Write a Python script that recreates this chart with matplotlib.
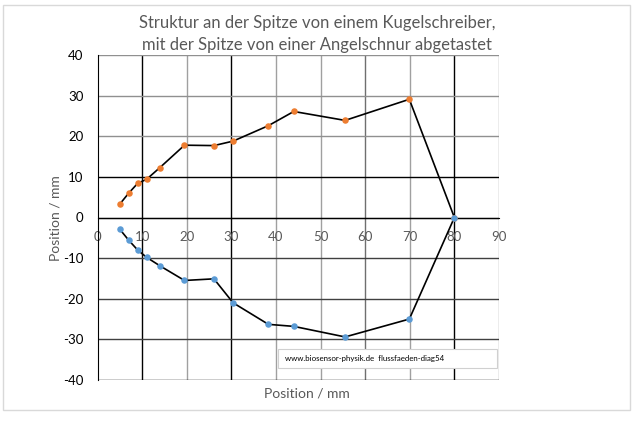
import matplotlib
matplotlib.use("Agg")
import matplotlib.pyplot as plt
from matplotlib.patches import Rectangle

plt.rcParams['font.family'] = ['Lato', 'DejaVu Sans']
plt.rcParams['axes.unicode_minus'] = False

title = "Struktur an der Spitze von einem Kugelschreiber,\nmit der Spitze von einer Angelschnur abgetastet"
xlabel = "Position / mm"
ylabel = "Position / mm"
watermark = "www.biosensor-physik.de  flussfaeden-diag54"

x_upper = [5.0, 7.0, 9.0, 11.0, 14.0, 19.5, 26.1, 30.4, 38.3, 44.0, 55.5, 69.9, 80.0]
y_upper = [3.3, 6.0, 8.4, 9.4, 12.3, 17.8, 17.7, 18.8, 22.6, 26.1, 23.9, 29.1, 0.0]
x_lower = [5.0, 7.0, 9.0, 11.0, 14.0, 19.5, 26.1, 30.4, 38.3, 44.0, 55.5, 69.9, 80.0]
y_lower = [-2.9, -5.6, -8.0, -9.8, -11.9, -15.5, -15.1, -21.0, -26.3, -26.8, -29.4, -25.0, 0.0]

xticks = [0, 10, 20, 30, 40, 50, 60, 70, 80, 90]
yticks = [-40, -30, -20, -10, 0, 10, 20, 30, 40]

fig = plt.figure(figsize=(6.35, 4.22), dpi=100)
fig.patches.append(Rectangle((3/635, 1-410/422), 627/635, 405/422, transform=fig.transFigure,
                             fill=False, edgecolor='#d9d9d9', linewidth=1.0))
ax = fig.add_axes([97.5/635, 1-380/422, 401.5/635, 325/422])
ax.set_xlim(0, 90)
ax.set_ylim(-40, 40)

vcol = {10: 'black', 30: 'black', 80: 'black', 60: '#6f6f6f'}
for xv in xticks[1:]:
    ax.axvline(xv, color=vcol.get(xv, '#a0a0a0'), lw=1.0, zorder=1)
hcol = {10: 'black', 0: 'black', -10: '#404040', -20: '#404040', -30: '#404040', -40: 'black'}
for yv in yticks:
    ax.axhline(yv, color=hcol.get(yv, '#909090'), lw=1.0, zorder=1)

ax.plot(x_upper, y_upper, color='black', lw=1.2, zorder=3)
ax.plot(x_lower, y_lower, color='black', lw=1.2, zorder=3)
ax.scatter(x_upper, y_upper, s=22, color='#ED7D31', zorder=4, linewidths=0)
ax.scatter(x_lower, y_lower, s=22, color='#5B9BD5', zorder=4, linewidths=0)

for s in ['top', 'right']:
    ax.spines[s].set_visible(False)
ax.spines['left'].set_color('black')
ax.spines['bottom'].set_position(('data', 0))
ax.spines['bottom'].set_color('black')

ax.set_xticks(xticks)
ax.set_yticks(yticks)
ax.tick_params(axis='x', length=0, pad=10, labelsize=9.5, labelcolor='#595959')
ax.tick_params(axis='y', length=0, pad=10, labelsize=9.5, labelcolor='black')

fig.text(317/635, 1-34/422, title, ha='center', va='center', fontsize=12, color='#595959',
         linespacing=1.45)
fig.text(307/635, 1-393/422, xlabel, ha='center', va='center', fontsize=10, color='#595959')
fig.text(55/635, 1-218/422, ylabel, ha='center', va='center', fontsize=10, color='#595959',
         rotation=90)

fig.patches.append(Rectangle((278/635, 1-368/422), 219/635, 19/422, transform=fig.transFigure,
                             facecolor='white', edgecolor='#d0d0d0', linewidth=0.8, zorder=5))
fig.text(285/635, 1-358.5/422, watermark, ha='left', va='center', fontsize=5.7, color='black',
         zorder=6)

fig.savefig('out.png', dpi=100)
